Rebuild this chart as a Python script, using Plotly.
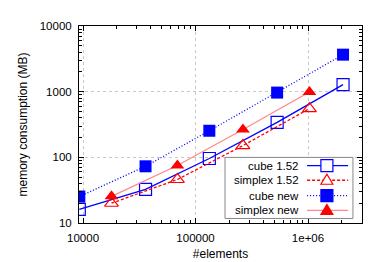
import plotly.graph_objects as go

# ---- data ----
cube_x = [9261, 35937, 132651, 531441, 2048383]
cube_152 = [16.1, 32.5, 96, 340, 1282]
cube_new = [25.3, 73, 254, 968, 3660]

simplex_x = [17900, 69000, 264000, 1030000]
simplex_152 = [20, 46, 151, 552]
simplex_new = [25.5, 75, 265, 990]

series_names = ["cube 1.52", "simplex 1.52", "cube new", "simplex new"]
x_tick_vals = [10000, 100000, 1000000]
x_tick_text = ["10000", "100000", "1e+06"]
y_tick_vals = [10, 100, 1000, 10000]
y_tick_text = ["10", "100", "1000", "10000"]

BLUE = "#0000ff"
RED = "#ff0000"
PINK = "#ff8888"
FONT = "Liberation Sans, Arial, sans-serif"
DASH = "3px,2px"
DOT = "1px,2px"

fig = go.Figure()
fig.add_trace(go.Scatter(x=cube_x, y=cube_152, mode="lines+markers", name=series_names[0],
                         line=dict(color=BLUE, width=1.3, dash="solid"),
                         marker=dict(symbol="square-open", size=12, color=BLUE, line=dict(width=1.2))))
fig.add_trace(go.Scatter(x=simplex_x, y=simplex_152, mode="lines+markers", name=series_names[1],
                         line=dict(color=RED, width=1.3, dash=DASH),
                         marker=dict(symbol="triangle-up-open", size=12, color=RED, line=dict(width=1.2))))
fig.add_trace(go.Scatter(x=cube_x, y=cube_new, mode="lines+markers", name=series_names[2],
                         line=dict(color=BLUE, width=1.3, dash=DOT),
                         marker=dict(symbol="square", size=12, color=BLUE)))
fig.add_trace(go.Scatter(x=simplex_x, y=simplex_new, mode="lines+markers", name=series_names[3],
                         line=dict(color=PINK, width=1.3, dash="solid"),
                         marker=dict(symbol="triangle-up", size=12, color=RED)))

def minor_vals(lo_exp, hi_exp):
    out = []
    for e in range(lo_exp, hi_exp + 1):
        for m in range(2, 10):
            out.append(m * 10 ** e)
    return out

axis_common = dict(
    showline=True, linecolor="black", linewidth=1, mirror="allticks",
    ticks="inside", ticklen=5, tickcolor="black", tickwidth=1,
    showgrid=True, gridcolor="#c8c8c8", griddash="dot", gridwidth=1,
    zeroline=False, tickfont=dict(family=FONT, size=11.5, color="black"),
    ticklabelstandoff=4,
)

fig.update_xaxes(type="log", range=[3.964, 6.48], tickvals=x_tick_vals, ticktext=x_tick_text,
                 minor=dict(ticks="inside", ticklen=3, tickcolor="black", tickvals=minor_vals(3, 6), showgrid=False),
                 title=dict(text="#elements", font=dict(family=FONT, size=12, color="black"), standoff=6),
                 **axis_common)
fig.update_yaxes(type="log", range=[1, 4], tickvals=y_tick_vals, ticktext=y_tick_text,
                 minor=dict(ticks="inside", ticklen=3, tickcolor="black", tickvals=minor_vals(1, 3), showgrid=False),
                 title=dict(text="memory consumption (MB)", font=dict(family=FONT, size=12, color="black"), standoff=9),
                 **axis_common)

# ---- custom gnuplot-style legend (text right, sample left) ----
shapes = []
annotations = []
shapes.append(dict(type="rect", xref="paper", yref="paper", x0=0.516, x1=0.968, y0=0.023, y1=0.333,
                   line=dict(color="#888888", width=1), fillcolor="white", layer="above"))
rows_y = [0.291, 0.217, 0.139, 0.064]
styles = [
    (BLUE, "solid", "square", False),
    (RED, DASH, "triangle", False),
    (BLUE, DOT, "square", True),
    (PINK, "solid", "triangle", True),
]
mx = 0.876
for name, yy, (lc, dash, sym, filled) in zip(series_names, rows_y, styles):
    annotations.append(dict(text=name, xref="paper", yref="paper", x=0.783, y=yy, xanchor="right",
                            yanchor="middle", showarrow=False, font=dict(family=FONT, size=11.5, color="black")))
    shapes.append(dict(type="line", xref="paper", yref="paper", x0=0.806, x1=0.951, y0=yy, y1=yy,
                       line=dict(color=lc, width=1.3, dash=dash), layer="above"))
    mcol = BLUE if sym == "square" else RED
    if sym == "square":
        shapes.append(dict(type="rect", xref="paper", yref="paper", xsizemode="pixel", ysizemode="pixel",
                           xanchor=mx, yanchor=yy, x0=-6, x1=6, y0=-6, y1=6,
                           line=dict(color=mcol, width=1.2), fillcolor=mcol if filled else "white",
                           layer="above"))
    else:
        shapes.append(dict(type="path", xref="paper", yref="paper", xsizemode="pixel", ysizemode="pixel",
                           xanchor=mx, yanchor=yy, path="M-6,-4 L6,-4 L0,6 Z",
                           line=dict(color=mcol, width=1.2), fillcolor=mcol if filled else "white",
                           layer="above"))

fig.update_layout(
    width=374, height=262,
    margin=dict(l=71, r=20, t=14, b=35),
    paper_bgcolor="white", plot_bgcolor="white",
    showlegend=False,
    shapes=shapes, annotations=annotations,
    font=dict(family=FONT, size=11.5, color="black"),
)

fig.write_html("out.html")
